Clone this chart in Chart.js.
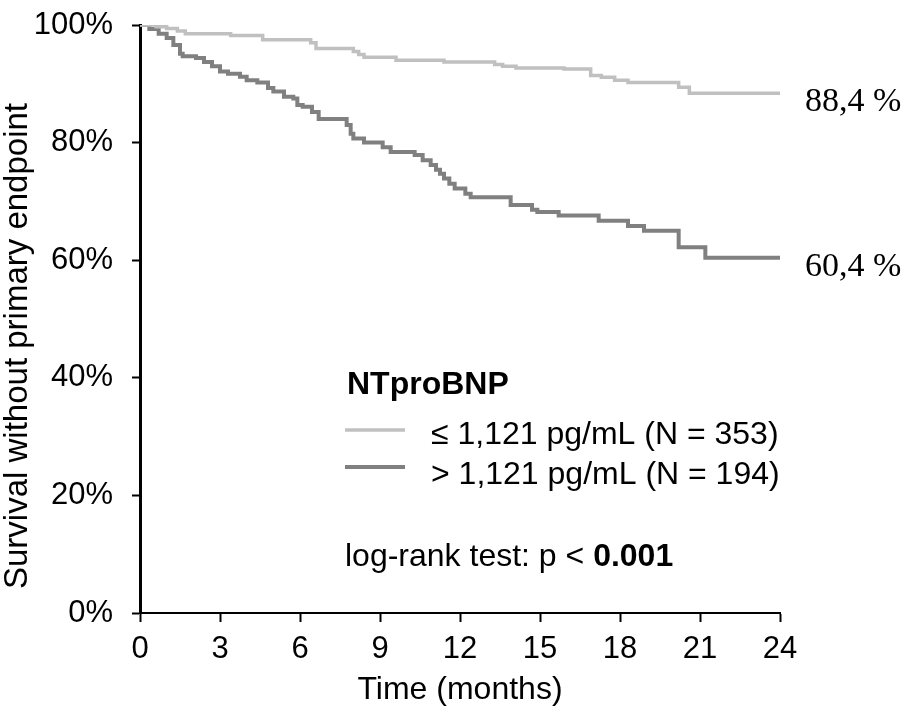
<!DOCTYPE html>
<html><head><meta charset="utf-8">
<script src="https://cdn.jsdelivr.net/npm/chart.js@4/dist/chart.umd.min.js"></script>
<style>html,body{margin:0;padding:0;background:#fff}#wrap{width:910px;height:711px}</style>
</head><body><div id="wrap"><canvas id="c" width="910" height="711"></canvas></div>
<script>
// ---- data (months, % survival without primary endpoint) ----
const lowTime = [0, 0.6, 1.0, 1.4, 1.7, 3.4, 4.6, 6.4, 6.6, 8.0, 8.2, 8.4, 9.6, 11.4, 13.3, 13.6, 14.1, 15.9, 16.9, 17.3, 17.8, 18.3, 20.2, 20.6, 24];
const lowSurv = [100, 99.7, 99.4, 99.0, 98.5, 98.2, 97.5, 97.0, 96.0, 95.5, 95.0, 94.5, 94.0, 93.7, 93.3, 93.0, 92.7, 92.5, 91.4, 91.1, 90.6, 90.2, 89.4, 88.4, 88.4];
const highTime = [0, 0.35, 0.7, 1.0, 1.25, 1.5, 1.6, 2.1, 2.4, 2.7, 3.0, 3.3, 3.75, 4.0, 4.4, 4.8, 5.0, 5.4, 5.75, 5.9, 6.1, 6.45, 6.7, 7.75, 7.9, 8.0, 8.4, 9.1, 9.4, 10.3, 10.6, 10.9, 11.1, 11.25, 11.4, 11.6, 11.8, 12.2, 12.4, 13.9, 14.7, 14.9, 15.7, 17.2, 18.3, 18.9, 20.2, 21.2, 24];
const highSurv = [100, 99.3, 98.5, 97.8, 96.6, 95.1, 94.7, 94.4, 93.7, 93.0, 92.1, 91.7, 91.2, 90.6, 90.2, 89.3, 88.7, 87.8, 87.5, 86.4, 86.1, 85.2, 84.0, 83.0, 81.5, 80.7, 80.0, 79.2, 78.4, 77.9, 77.0, 76.2, 75.4, 74.7, 73.9, 73.0, 72.2, 71.3, 70.7, 69.4, 68.6, 68.2, 67.6, 66.7, 65.8, 65.0, 62.2, 60.4, 60.4];
const seriesLabels = ['\u2264 1,121 pg/mL (N = 353)', '> 1,121 pg/mL (N = 194)'];
const endLabels = ['88,4 %', '60,4 %'];
const legendTitle = 'NTproBNP';
const testText = 'log-rank test: p < ';
const testValue = '0.001';
const xTicks = [0, 3, 6, 9, 12, 15, 18, 21, 24];
const yTicks = [0, 20, 40, 60, 80, 100];
const xTitle = 'Time (months)';
const yTitle = 'Survival without primary endpoint';

const SANS = '"Liberation Sans", Arial, sans-serif';
const SERIF = '"Liberation Serif", "Times New Roman", serif';
const colors = ['#c0c0c0', '#808080'];
const widths = [3.5, 4];

function pts(t, s) { return t.map((x, i) => ({ x: x, y: s[i] })); }

const overlay = {
  id: 'overlay',
  afterDraw(chart) {
    const { ctx, chartArea: a, scales: { y } } = chart;
    ctx.save();
    // y-axis title
    ctx.save();
    ctx.translate(18, 346);
    ctx.rotate(-Math.PI / 2);
    ctx.font = '33px ' + SANS;
    ctx.fillStyle = '#000';
    ctx.textAlign = 'center';
    ctx.textBaseline = 'middle';
    ctx.fillText(yTitle, 0, 0);
    ctx.restore();
    // end labels
    ctx.font = '34px ' + SERIF;
    ctx.fillStyle = '#000';
    ctx.textAlign = 'left';
    ctx.textBaseline = 'middle';
    chart.data.datasets.forEach((ds, i) => {
      const last = ds.data[ds.data.length - 1];
      ctx.fillText(endLabels[i], a.right + 25, y.getPixelForValue(last.y) + 9);
    });
    // legend
    const lx = a.left + 205;
    ctx.font = 'bold 32px ' + SANS;
    ctx.fillText(legendTitle, lx + 2, 385);
    ctx.font = '32px ' + SANS;
    const rows = [430, 467];
    const trows = [435, 475];
    chart.data.datasets.forEach((ds, i) => {
      ctx.strokeStyle = ds.borderColor;
      ctx.lineWidth = ds.borderWidth;
      ctx.beginPath();
      ctx.moveTo(lx, rows[i]);
      ctx.lineTo(lx + 60, rows[i]);
      ctx.stroke();
      ctx.fillText(ds.label, lx + 86, trows[i]);
    });
    ctx.fillText(testText, lx, 557);
    const w = ctx.measureText(testText).width;
    ctx.font = 'bold 32px ' + SANS;
    ctx.fillText(testValue, lx + w, 557);
    ctx.restore();
  }
};

new Chart(document.getElementById('c'), {
  type: 'line',
  data: {
    datasets: [
      { label: seriesLabels[0], data: pts(lowTime, lowSurv), borderColor: colors[0], borderWidth: widths[0], stepped: 'before', pointRadius: 0, fill: false },
      { label: seriesLabels[1], data: pts(highTime, highSurv), borderColor: colors[1], borderWidth: widths[1], stepped: 'before', pointRadius: 0, fill: false }
    ]
  },
  options: {
    responsive: false,
    animation: false,
    devicePixelRatio: 1,
    layout: { padding: { top: 25, right: 130, left: 0, bottom: 0 } },
    plugins: { legend: { display: false }, tooltip: { enabled: false } },
    scales: {
      x: {
        type: 'linear', min: 0, max: 24,
        afterBuildTicks: s => { s.ticks = xTicks.map(v => ({ value: v })); },
        afterFit: s => { s.height = 98; s.paddingLeft = 0; s.paddingRight = 0; },
        ticks: { color: '#000', font: { family: SANS, size: 31 }, padding: 9, maxRotation: 0, autoSkip: false },
        grid: { drawOnChartArea: false, drawTicks: true, tickLength: 9, tickColor: '#000', tickWidth: 2 },
        border: { display: true, color: '#000', width: 2 },
        title: { display: true, text: xTitle, color: '#000', font: { family: SANS, size: 32 }, padding: { top: 4, bottom: 2 } }
      },
      y: {
        type: 'linear', min: 0, max: 100,
        afterBuildTicks: s => { s.ticks = yTicks.map(v => ({ value: v })); },
        afterFit: s => { s.width = 140; s.paddingTop = 0; s.paddingBottom = 0; },
        ticks: { color: '#000', font: { family: SANS, size: 31 }, padding: 19, callback: v => v + '%' },
        grid: { drawOnChartArea: false, drawTicks: true, tickLength: 8, tickColor: '#000', tickWidth: 2 },
        border: { display: true, color: '#000', width: 3 }
      }
    }
  },
  plugins: [overlay]
});
</script>
</body></html>
